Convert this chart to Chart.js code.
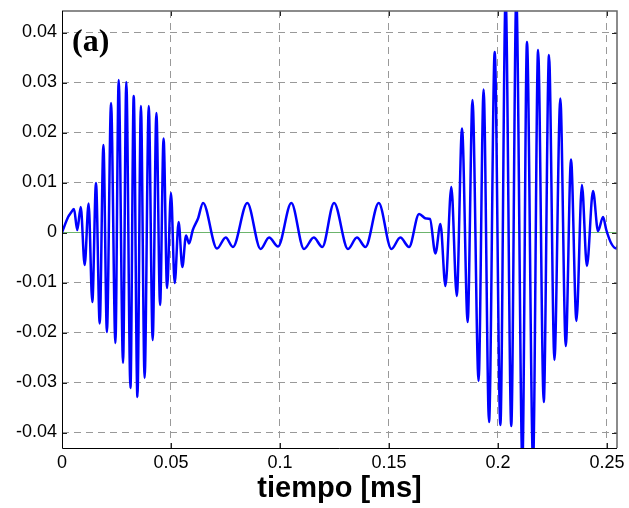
<!DOCTYPE html>
<html>
<head>
<meta charset="utf-8">
<script src="https://cdn.jsdelivr.net/npm/chart.js@4"></script>
<style>
  html, body { margin: 0; padding: 0; background: #fff; }
  canvas { display: block; }
</style>
</head>
<body>
<canvas id="c" width="629" height="508"></canvas>
<script>
// Time (ms) of each turning point of the signal
const times = [
  0, 0.0028, 0.004, 0.0055, 0.007, 0.0086, 0.0104, 0.0122, 0.0139, 0.0156,
  0.0173, 0.019, 0.0206, 0.0225, 0.0245, 0.026, 0.028, 0.0295, 0.0314, 0.0329,
  0.0346, 0.0362, 0.0379, 0.0398, 0.0416, 0.0433, 0.045, 0.0466, 0.0482, 0.05,
  0.0517, 0.0535, 0.0552, 0.0569, 0.0583, 0.0600, 0.0624, 0.0647,
  0.0711, 0.0751, 0.0784, 0.085,
  0.0911, 0.095, 0.0991, 0.1052,
  0.111, 0.1155, 0.1194, 0.1248,
  0.1312, 0.1353, 0.1392, 0.1453,
  0.1511, 0.1552, 0.1592, 0.1638, 0.167, 0.1688,
  0.1713, 0.1736, 0.1759, 0.1786, 0.1811, 0.1835, 0.1861, 0.1883, 0.1911, 0.1934,
  0.1959, 0.1985, 0.2011, 0.2035, 0.2061, 0.2084, 0.2112, 0.2133, 0.2161, 0.2184,
  0.221, 0.2234, 0.2259, 0.2286, 0.2311, 0.2335, 0.236, 0.2385, 0.2408, 0.2436,
  0.2459, 0.2482, 0.2497, 0.252, 0.2543, 0.255
];
// Signal amplitude at those times
const signal = [
  0, 0.0031, 0.0039, 0.0047, 0.0005, 0.0051, -0.0065, 0.0058, -0.0139, 0.0099,
  -0.0182, 0.0175, -0.0199, 0.0259, -0.0221, 0.0305, -0.0261, 0.0301, -0.0311, 0.0273,
  -0.0329, 0.0253, -0.0291, 0.0253, -0.0215, 0.0239, -0.0145, 0.0188, -0.0111, 0.0079,
  -0.0101, 0.0021, -0.0069, -0.0006, -0.0022, 0.0005, 0.0028, 0.0059,
  -0.0032, -0.001, -0.0029, 0.0059,
  -0.0033, -0.001, -0.0028, 0.0059,
  -0.0033, -0.001, -0.0029, 0.0059,
  -0.0033, -0.001, -0.0029, 0.0059,
  -0.0033, -0.001, -0.0029, 0.0037, 0.0028, 0.0027,
  -0.0042, 0.0017, -0.0107, 0.0091, -0.0127, 0.0208, -0.0179, 0.0265, -0.0297, 0.0286,
  -0.0379, 0.0361, -0.0385, 0.047, -0.0387, 0.047, -0.046, 0.0381, -0.046, 0.0365,
  -0.0339, 0.0355, -0.0255, 0.0268, -0.0227, 0.0146, -0.0177, 0.0095, -0.0067, 0.0083,
  0.0003, 0.0031, 0.0005, -0.0022, -0.0032, -0.0026
];
// Zero reference line
const zeroTimes = [0, 0.255];
const zeroValues = [0, 0];

const xTicks = [0, 0.05, 0.1, 0.15, 0.2, 0.25];
const xTickLabels = ['0', '0.05', '0.1', '0.15', '0.2', '0.25'];
const yTicks = [-0.04, -0.03, -0.02, -0.01, 0, 0.01, 0.02, 0.03, 0.04];
const yTickLabels = ['-0.04', '-0.03', '-0.02', '-0.01', '0', '0.01', '0.02', '0.03', '0.04'];

const xMin = 0, xMax = 0.2546;
const yMin = -0.0431, yMax = 0.0443;
const xTitle = 'tiempo [ms]';
const panelLabel = '(a)';

const boxPlugin = {
  id: 'box',
  afterDraw(chart) {
    const { ctx, chartArea: a, scales } = chart;
    ctx.save();
    // inward tick marks
    ctx.strokeStyle = '#222';
    ctx.lineWidth = 1;
    const tl = 5;
    ctx.beginPath();
    xTicks.forEach(v => {
      const px = Math.round(scales.x.getPixelForValue(v)) + 0.5;
      ctx.moveTo(px, a.bottom); ctx.lineTo(px, a.bottom - tl);
      ctx.moveTo(px, a.top); ctx.lineTo(px, a.top + tl);
    });
    yTicks.forEach(v => {
      const py = Math.round(scales.y.getPixelForValue(v)) + 0.5;
      ctx.moveTo(a.left, py); ctx.lineTo(a.left + tl, py);
      ctx.moveTo(a.right, py); ctx.lineTo(a.right - tl, py);
    });
    ctx.stroke();
    // top and right borders
    ctx.strokeStyle = '#666';
    ctx.lineWidth = 1.5;
    ctx.beginPath();
    ctx.moveTo(a.left, a.top); ctx.lineTo(a.right, a.top); ctx.lineTo(a.right, a.bottom);
    ctx.stroke();
    // left and bottom borders
    ctx.strokeStyle = '#000';
    ctx.lineWidth = 1;
    ctx.beginPath();
    ctx.moveTo(a.left + 0.5, a.top); ctx.lineTo(a.left + 0.5, a.bottom + 0.5); ctx.lineTo(a.right, a.bottom + 0.5);
    ctx.stroke();
    // panel label
    ctx.fillStyle = '#000';
    ctx.font = 'bold 32px "Liberation Serif", "DejaVu Serif", serif';
    ctx.textAlign = 'left';
    ctx.textBaseline = 'alphabetic';
    ctx.fillText(panelLabel, a.left + 10, a.top + 40);
    ctx.restore();
  }
};

new Chart(document.getElementById('c'), {
  type: 'line',
  data: {
    datasets: [
      {
        data: times.map((t, i) => ({ x: t, y: signal[i] })),
        borderColor: '#0000ff',
        borderWidth: 2.5,
        pointRadius: 0,
        cubicInterpolationMode: 'monotone',
        fill: false,
        clip: 0,
        order: 1
      },
      {
        data: zeroTimes.map((t, i) => ({ x: t, y: zeroValues[i] })),
        borderColor: '#6cb46c',
        borderWidth: 1.2,
        pointRadius: 0,
        fill: false,
        clip: 0,
        order: 2
      }
    ]
  },
  options: {
    responsive: false,
    animation: false,
    events: [],
    layout: { padding: { left: 0, right: 12, top: 11, bottom: 0 } },
    plugins: { legend: { display: false }, tooltip: { enabled: false } },
    scales: {
      x: {
        type: 'linear',
        min: xMin, max: xMax,
        afterBuildTicks: s => { s.ticks = xTicks.map(v => ({ value: v })); },
        afterFit: s => { s.height = 60; s.paddingLeft = 0; s.paddingRight = 0; },
        ticks: {
          color: '#000',
          font: { family: '"Liberation Sans", Arial, sans-serif', size: 18 },
          padding: 4,
          maxRotation: 0,
          autoSkip: false,
          callback: (v, i) => xTickLabels[i]
        },
        grid: {
          color: '#999',
          lineWidth: 1,
          drawTicks: false,
          tickLength: 0
        },
        border: { display: false, dash: [7, 5] },
        title: {
          display: true,
          text: xTitle,
          color: '#000',
          font: { family: '"Liberation Sans", Arial, sans-serif', size: 29, weight: 'bold' },
          padding: { top: 0, bottom: 2 }
        }
      },
      y: {
        type: 'linear',
        min: yMin, max: yMax,
        afterBuildTicks: s => { s.ticks = yTicks.map(v => ({ value: v })); },
        afterFit: s => { s.width = 62; s.paddingTop = 0; s.paddingBottom = 0; },
        ticks: {
          color: '#000',
          font: { family: '"Liberation Sans", Arial, sans-serif', size: 18 },
          padding: 5,
          autoSkip: false,
          callback: (v, i) => yTickLabels[i]
        },
        grid: {
          color: '#999',
          lineWidth: 1,
          drawTicks: false,
          tickLength: 0
        },
        border: { display: false, dash: [7, 5] }
      }
    }
  },
  plugins: [boxPlugin]
});
</script>
</body>
</html>
